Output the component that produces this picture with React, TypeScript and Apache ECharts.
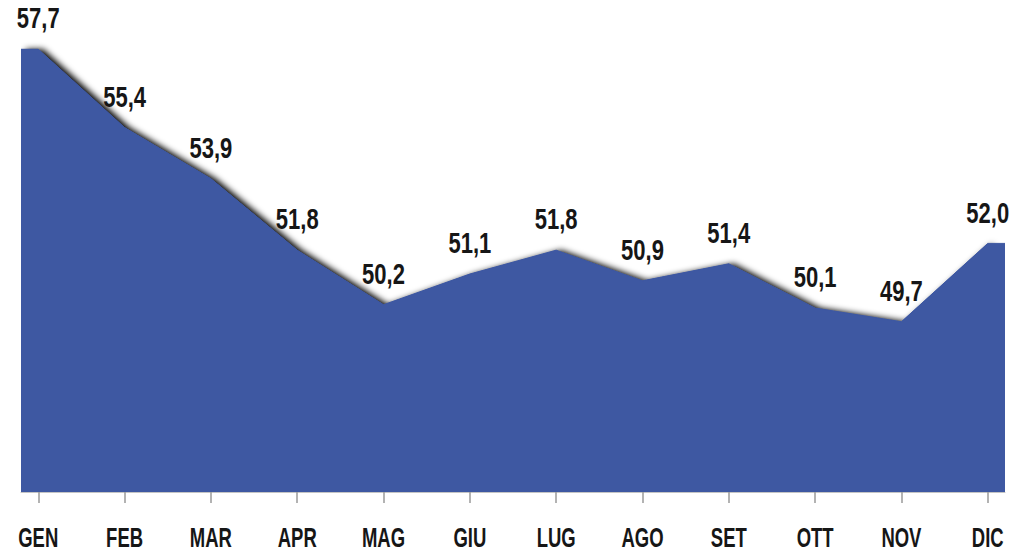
import React, { useEffect, useRef } from "react";
import * as echarts from "echarts";

const months = ["GEN", "FEB", "MAR", "APR", "MAG", "GIU", "LUG", "AGO", "SET", "OTT", "NOV", "DIC"];
const values = [57.7, 55.4, 53.9, 51.8, 50.2, 51.1, 51.8, 50.9, 51.4, 50.1, 49.7, 52.0];

const X_PAD = 0.2;
const Y_MIN = 44.7;
const Y_MAX = 59;
const FILL = "#3e58a2";
const TEXT = "#161616";
const FONT = "'Liberation Sans', Arial, sans-serif";

export default function App() {
  const ref = useRef<HTMLDivElement>(null);
  useEffect(() => {
    if (!ref.current) return;
    const chart = echarts.init(ref.current, null, { renderer: "svg" });
    const last = values.length - 1;
    const pts: any[] = values.map((v, i) => ({ value: [i, v] }));
    const fullData = [
      { value: [-X_PAD, values[0]] },
      ...pts,
      { value: [last + X_PAD, values[last]] },
    ];
    const shadowData = [{ value: [-X_PAD, values[0]] }, ...pts];
    const idx = months.map((_, i) => i);
    chart.setOption({
      animation: false,
      backgroundColor: "#ffffff",
      grid: { left: 21, right: 7, top: 5, bottom: 62, containLabel: false },
      xAxis: {
        type: "value",
        min: -X_PAD,
        max: last + X_PAD,
        splitLine: { show: false },
        axisLine: { show: true, lineStyle: { color: "#c4c4c4", width: 1 } },
        axisTick: { show: true, customValues: idx, length: 11, lineStyle: { color: "#9a9a9a", width: 1.5 } },
        axisLabel: { show: false },
      },
      yAxis: {
        type: "value",
        min: Y_MIN,
        max: Y_MAX,
        show: false,
        splitLine: { show: false },
      },
      series: [
        {
          type: "line",
          data: shadowData,
          z: 1,
          symbol: "none",
          silent: true,
          lineStyle: { width: 0, color: FILL },
          areaStyle: {
            color: FILL,
            opacity: 1,
            shadowColor: "rgba(0,0,0,1)",
            shadowBlur: 6,
            shadowOffsetX: 5,
            shadowOffsetY: 0,
          },
        },
        {
          type: "line",
          data: fullData,
          z: 2,
          symbol: "none",
          silent: true,
          lineStyle: { color: FILL, width: 1 },
          areaStyle: { color: FILL, opacity: 1 },
        },
        {
          type: "custom",
          name: "valueLabels",
          z: 5,
          silent: true,
          data: values.map((v, i) => [i, v]),
          renderItem: (params: any, api: any) => {
            const x = api.value(0);
            const v = api.value(1);
            const p = api.coord([x, v]);
            return {
              type: "text",
              x: p[0],
              y: p[1] - 31,
              scaleX: 0.76,
              style: {
                text: Number(v).toFixed(1).replace(".", ","),
                fill: TEXT,
                fontFamily: FONT,
                fontWeight: "bold",
                fontSize: 29,
                lineHeight: 24,
                align: "center",
                verticalAlign: "middle",
              },
            };
          },
        },
        {
          type: "custom",
          name: "monthLabels",
          z: 5,
          silent: true,
          data: months.map((m, i) => [i, Y_MIN]),
          renderItem: (params: any, api: any) => {
            const i = api.value(0);
            const p = api.coord([i, Y_MIN]);
            return {
              type: "text",
              x: p[0],
              y: p[1] + 46,
              scaleX: 0.66,
              style: {
                text: months[params.dataIndex],
                fill: TEXT,
                fontFamily: FONT,
                fontWeight: "bold",
                fontSize: 28,
                lineHeight: 22,
                align: "center",
                verticalAlign: "middle",
              },
            };
          },
        },
      ],
    });
    return () => chart.dispose();
  }, []);
  return <div ref={ref} style={{ width: 1012, height: 554, position: "absolute", left: 0, top: 0 }} />;
}
